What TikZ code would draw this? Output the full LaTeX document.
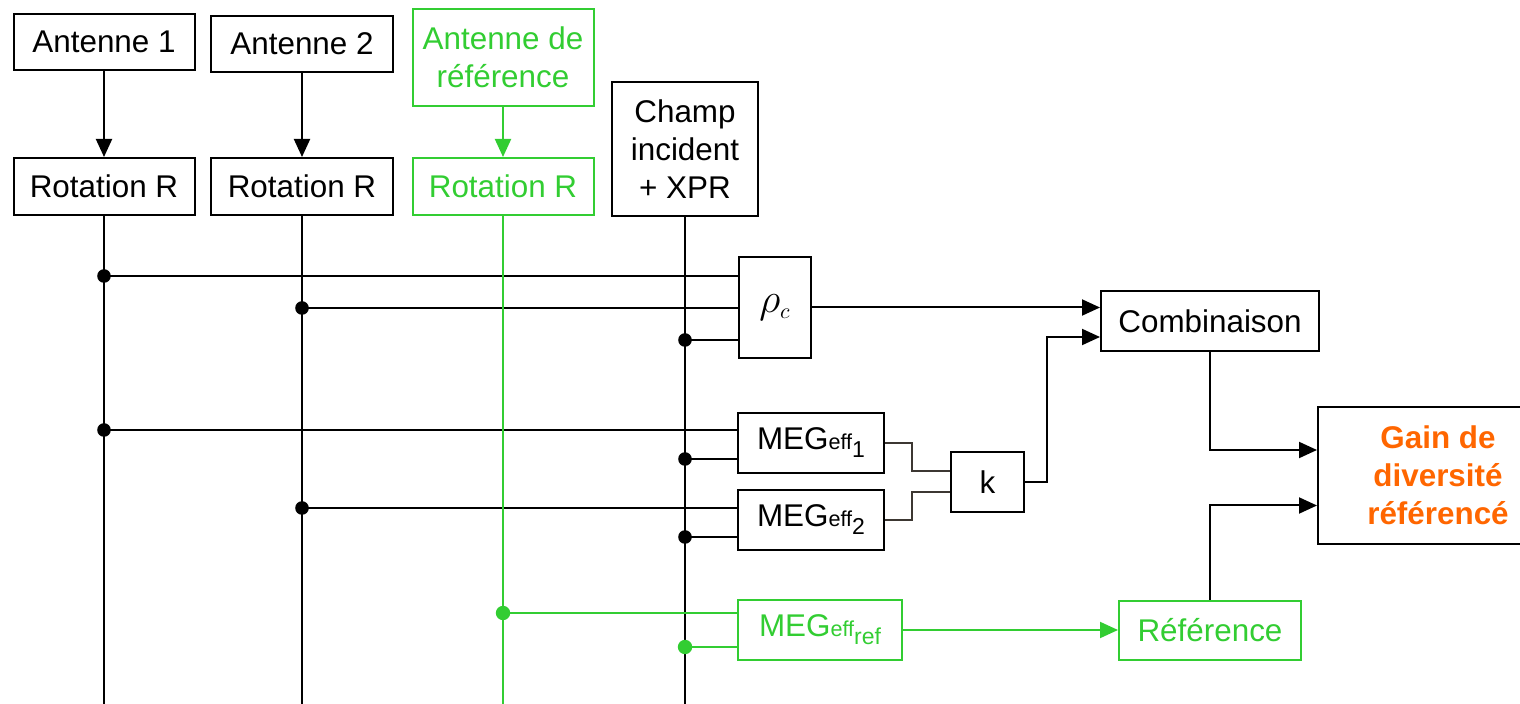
\documentclass[tikz,border=0pt]{standalone}
\usepackage{fontspec}
\setmainfont{Liberation Sans}
\usetikzlibrary{arrows.meta,calc}
\definecolor{grn}{RGB}{50,205,50}
\definecolor{org}{RGB}{255,102,0}
\definecolor{thinc}{RGB}{60,55,50}
\newcommand{\effsub}[1]{{\fontsize{10.8}{12}\selectfont eff}\raisebox{-4pt}{\fontsize{11.5}{13}\selectfont #1}}
\begin{document}
\begin{tikzpicture}[x=0.5pt,y=-0.5pt,line width=1pt,
  box/.style={draw,rectangle,inner sep=0pt,align=center,font=\fontsize{15.7}{19}\selectfont},
  gbox/.style={box,draw=grn,text=grn},
  sz/.style 2 args={minimum width=#1*0.5pt,minimum height=#2*0.5pt},
  tip/.style={-{Triangle[length=9pt,width=8pt]}},
  thin link/.style={draw=thinc,line width=0.75pt}]
\useasboundingbox (0,0) rectangle (1520,704);
\clip (0,0) rectangle (1520,704);

% nodes
\node[box,sz={181}{56}] (a1) at (104,42) {Antenne 1};
\node[box,sz={182}{56}] (a2) at (302,44) {Antenne 2};
\node[gbox,sz={181}{97}] (a3) at (503,57.5) {Antenne de\\référence};
\node[box,sz={181}{57}] (r1) at (104,186.5) {Rotation R};
\node[box,sz={182}{57}] (r2) at (302,186.5) {Rotation R};
\node[gbox,sz={181}{57}] (r3) at (503,186.5) {Rotation R};
\node[box,sz={146}{134}] (ch) at (685,149) {Champ\\incident\\+ XPR};
\node[box,sz={72}{101},font=\fontsize{21}{24}\selectfont] (rho) at (775,307.5) {$\rho_{\scriptscriptstyle c}$};
\node[box,sz={146}{60}] (m1) at (811,443) {MEG\effsub{1}};
\node[box,sz={146}{60}] (m2) at (811,520) {MEG\effsub{2}};
\node[gbox,sz={164}{60}] (m3) at (820,630) {MEG\effsub{ref}};
\node[box,sz={73}{60}] (k) at (987.5,482) {k};
\node[box,sz={218}{60}] (comb) at (1210,321) {Combinaison};
\node[gbox,sz={182}{59}] (ref) at (1210,630.5) {Référence};
\node[box,sz={240}{137},text=org,font=\bfseries\fontsize{15.7}{19}\selectfont] (gain) at (1438,475.5) {Gain de\\diversité\\référencé};

% bottom ends and junctions
\coordinate (b1) at (104,704);
\coordinate (b2) at (302,704);
\coordinate (b3) at (503,704);
\coordinate (b4) at (685,704);
\coordinate (d1) at (104,276);
\coordinate (d2) at (302,308);
\coordinate (d3) at (685,340);
\coordinate (d4) at (104,430);
\coordinate (d5) at (685,459);
\coordinate (d6) at (302,508);
\coordinate (d7) at (685,537);
\coordinate (g1) at (503,613);
\coordinate (g2) at (685,647);

% antenna to rotation
\draw[tip] (a1) -- (r1);
\draw[tip] (a2) -- (r2);
\draw[tip,grn] (a3) -- (r3);

% verticals
\draw (r1.south) -- (b1);
\draw (r2.south) -- (b2);
\draw (ch.south) -- (b4);

% horizontals into blocks
\draw (d1) -- (d1 -| rho.west);
\draw (d2) -- (d2 -| rho.west);
\draw (d3) -- (d3 -| rho.west);
\draw (d4) -- (d4 -| m1.west);
\draw (d5) -- (d5 -| m1.west);
\draw (d6) -- (d6 -| m2.west);
\draw (d7) -- (d7 -| m2.west);
\draw[grn] (r3.south) -- (b3);
\draw[grn] (g1) -- (g1 -| m3.west);
\draw[grn] (g2) -- (g2 -| m3.west);

% dots
\foreach \d in {d1,d2,d3,d4,d5,d6,d7} \fill (\d) circle (3.4pt);
\foreach \d in {g1,g2} \fill[grn] (\d) circle (3.6pt);

% MEG to k
\draw[thin link] (m1.east) -- ++(27,0) |- ($(k.west)+(0,-11)$);
\draw[thin link] (m2.east) -- ++(27,0) |- ($(k.west)+(0,10)$);

% outputs
\draw[tip] (rho.east) -- (rho.east -| comb.west);
\draw[tip] (k.east) -- ++(22,0) |- ($(comb.west)+(0,16)$);
\draw[tip,grn] (m3.east) -- (m3.east -| ref.west);
\draw[tip] (comb.south) |- ($(gain.west)+(0,-25.5)$);
\draw[tip] (ref.north) |- ($(gain.west)+(0,30)$);
\end{tikzpicture}
\end{document}
